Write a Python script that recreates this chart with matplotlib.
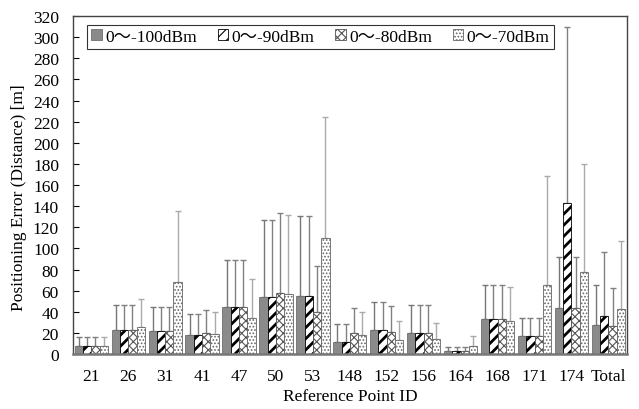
import matplotlib
matplotlib.use("Agg")
import matplotlib.pyplot as plt
import numpy as np

plt.rcParams['font.family'] = ['Liberation Serif', 'Noto Sans CJK JP']
plt.rcParams['hatch.linewidth'] = 1.0

categories = ['21', '26', '31', '41', '47', '50', '53', '148', '152', '156', '164', '168', '171', '174', 'Total']
series_names = ['0〜-100dBm', '0〜-90dBm', '0〜-80dBm', '0〜-70dBm']

mean_100 = [8, 22.7, 21.5, 18, 44.2, 53.7, 54.6, 11.7, 22.4, 20.2, 2.5, 32.8, 16.7, 43.6, 27.1]
mean_90 = [8, 22.7, 21.5, 18, 44.2, 53.7, 54.6, 11.7, 22.4, 20.2, 2.5, 32.8, 16.7, 142.7, 35.7]
mean_80 = [8, 22.7, 21.5, 20.2, 44.2, 57.8, 40.0, 19.6, 20.5, 20.2, 2.5, 32.8, 16.7, 43.6, 26.2]
mean_70 = [8, 25.9, 67.9, 18.6, 34.0, 56.8, 109.8, 18.0, 13.6, 13.9, 7.9, 31.2, 65.6, 77.7, 42.3]

top_100 = [16.4, 46, 44.2, 37.9, 89, 127, 131, 28.7, 49.2, 46.7, 7, 65.6, 33.8, 92.2, 65.6]
top_90 = [16.4, 46, 44.2, 37.9, 89, 127, 131, 28.7, 49.2, 46.7, 7, 65.6, 33.8, 309.4, 96.6]
top_80 = [16.4, 46, 44.2, 42, 89, 133.5, 83, 43.6, 45.8, 46.7, 7, 65.6, 33.8, 92.2, 62.2]
top_70 = [16.4, 52.4, 135.7, 39.5, 71, 132, 224, 39.8, 31.6, 29, 17.3, 63.8, 168.6, 180.2, 106.7]

means = [mean_100, mean_90, mean_80, mean_70]
tops = [top_100, top_90, top_80, top_70]

fig = plt.figure(figsize=(6.39, 4.10), dpi=100)
ax = fig.add_axes([0.114, 0.134, 0.867, 0.8245])

x = np.arange(len(categories))
w = 0.225
styles = [
    dict(color='#8a8a8a', edgecolor='#6e6e6e', hatch=None),
    dict(color='white', edgecolor='black', hatch='///'),
    dict(color='white', edgecolor='#555555', hatch='xxxx'),
    dict(color='white', edgecolor='#666666', hatch='.....'),
]
err_colors = ['#777777', '#808080', '#808080', '#aaaaaa']

for i in range(4):
    xs = x + (i - 1.5) * w
    m = np.array(means[i])
    t = np.array(tops[i])
    st = styles[i]
    if i == 1:
        plt.rcParams['hatch.linewidth'] = 2.0
    else:
        plt.rcParams['hatch.linewidth'] = 0.8
    ax.bar(xs, m, w, color=st['color'], edgecolor=st['edgecolor'],
           hatch=st['hatch'], linewidth=0.6, label=series_names[i], zorder=2)
    ax.errorbar(xs, m, yerr=[np.zeros_like(m), t - m], fmt='none',
                ecolor=err_colors[i], elinewidth=1.0, capsize=2.2, capthick=1.0, zorder=1)

ax.set_xlim(-0.5, len(categories) - 0.5)
ax.set_ylim(0, 320)
ax.set_yticks(np.arange(0, 321, 20))
ax.set_xticks(x)
ax.set_xticklabels(categories)
ax.tick_params(axis='y', direction='in', length=4, labelsize=12.5, pad=10)
ax.tick_params(axis='x', length=0, labelsize=12.5, pad=10)
for s in ax.spines.values():
    s.set_color('#444444')
    s.set_linewidth(1.0)
ax.spines['bottom'].set_color('#777777')
ax.spines['bottom'].set_linewidth(1.8)

ax.set_ylabel('Positioning Error (Distance) [m]', fontsize=12.5)
ax.yaxis.set_label_coords(-0.083, 0.465)
ax.set_xlabel('Reference Point ID', fontsize=12.5, labelpad=3)

leg = ax.legend(ncol=4, loc='upper left', bbox_to_anchor=(0.01, 1.0), fontsize=12.5,
                frameon=True, fancybox=False, edgecolor='black', handlelength=0.6,
                handleheight=0.6, handletextpad=0.2, columnspacing=1.2, borderpad=0.25)
leg.get_frame().set_linewidth(0.8)

fig.savefig('out.png', dpi=100)
